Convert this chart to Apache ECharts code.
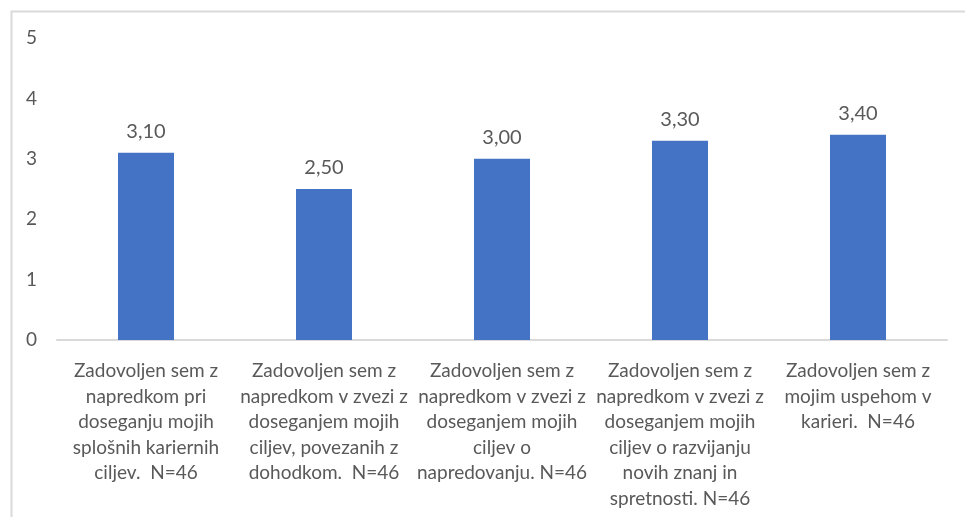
<!DOCTYPE html>
<html>
<head>
<meta charset="utf-8">
<script src="https://cdn.jsdelivr.net/npm/echarts@6/dist/echarts.min.js"></script>
<style>
  html, body { margin: 0; padding: 0; background: #fff; }
  #chart { width: 965px; height: 517px; }
</style>
</head>
<body>
<div id="chart"></div>
<script>
// categories (line breaks as in the original)
const categories = [
  'Zadovoljen sem z\nnapredkom pri\ndoseganju mojih\nsplošnih kariernih\nciljev.  N=46',
  'Zadovoljen sem z\nnapredkom v zvezi z\ndoseganjem mojih\nciljev, povezanih z\ndohodkom.  N=46',
  'Zadovoljen sem z\nnapredkom v zvezi z\ndoseganjem mojih\nciljev o\nnapredovanju. N=46',
  'Zadovoljen sem z\nnapredkom v zvezi z\ndoseganjem mojih\nciljev o razvijanju\nnovih znanj in\nspretnosti. N=46',
  'Zadovoljen sem z\nmojim uspehom v\nkarieri.  N=46'
]
const values = [3.10, 2.50, 3.00, 3.30, 3.40]

const chart = echarts.init(document.getElementById('chart'))
const textColor = '#595959'
const font = 'Lato, "Open Sans", sans-serif'

chart.setOption({
  animation: false,
  grid: { left: 57, right: 18, top: 38, bottom: 177 },
  graphic: [{
    type: 'polyline',
    shape: { points: [[11.5, 517], [11.5, 11.5], [965, 11.5]] },
    style: { stroke: '#d9d9d9', lineWidth: 2, fill: null },
    silent: true
  }],
  xAxis: {
    type: 'category',
    data: categories,
    axisLine: { lineStyle: { color: '#d9d9d9', width: 2 } },
    axisTick: { show: false },
    axisLabel: {
      interval: 0,
      color: textColor,
      fontFamily: font,
      fontSize: 19,
      lineHeight: 25.6,
      margin: 18,
      align: 'center'
    }
  },
  yAxis: {
    type: 'value',
    min: 0,
    max: 5,
    interval: 1,
    axisLine: { show: false },
    axisTick: { show: false },
    splitLine: { show: false },
    axisLabel: {
      color: textColor,
      fontFamily: font,
      fontSize: 19,
      margin: 20
    }
  },
  series: [{
    type: 'bar',
    data: values,
    barWidth: 56,
    itemStyle: { color: '#4472C4' },
    label: {
      show: true,
      position: 'top',
      distance: 11,
      color: textColor,
      fontFamily: font,
      fontSize: 20,
      formatter: p => p.value.toFixed(2).replace('.', ',')
    }
  }]
})
</script>
</body>
</html>
